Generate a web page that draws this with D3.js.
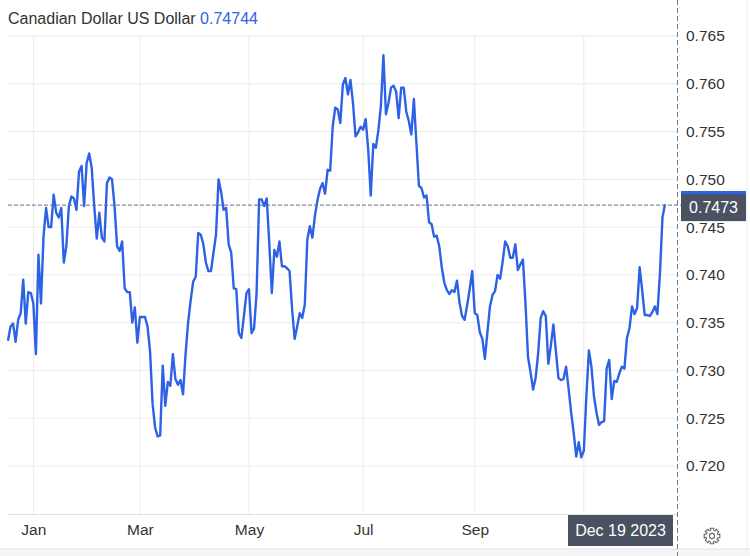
<!DOCTYPE html>
<html lang='en'>

<head>
   <meta charset='UTF-8'>
   <title>Canadian Dollar US Dollar</title>
   <script src='https://d3js.org/d3.v7.min.js'></script>
   <style>
      body {
         margin: 0;
         background: #fff;
      }

      svg text {
         font-family: 'Liberation Sans', Arial, Helvetica, sans-serif;
      }
   </style>
</head>

<body>
   <div id='svg-container'></div>
   <script>

      // daily close, Dec 19 2022 .. Dec 19 2023
      const rates = [
         0.7331, 0.7346, 0.7349, 0.7330, 0.7353, 0.7360, 0.7395, 0.7349, 0.7382, 0.7381,
         0.7370, 0.7317, 0.7421, 0.7370, 0.7440, 0.7470, 0.7450, 0.7450, 0.7484, 0.7465,
         0.7460, 0.7470, 0.7413, 0.7430, 0.7472, 0.7482, 0.7480, 0.7468, 0.7508, 0.7514,
         0.7472, 0.7517, 0.7527, 0.7512, 0.7472, 0.7438, 0.7465, 0.7439, 0.7435, 0.7496,
         0.7502, 0.7500, 0.7472, 0.7430, 0.7425, 0.7435, 0.7386, 0.7382, 0.7382, 0.7350,
         0.7366, 0.7329, 0.7356, 0.7356, 0.7356, 0.7346, 0.7320, 0.7265, 0.7240, 0.7231,
         0.7232, 0.7305, 0.7263, 0.7288, 0.7284, 0.7317, 0.7291, 0.7285, 0.7290, 0.7275,
         0.7317, 0.7350, 0.7373, 0.7393, 0.7398, 0.7444, 0.7442, 0.7432, 0.7413, 0.7404,
         0.7404, 0.7423, 0.7442, 0.7500, 0.7487, 0.7468, 0.7470, 0.7432, 0.7423, 0.7386,
         0.7385, 0.7339, 0.7334, 0.7357, 0.7381, 0.7385, 0.7339, 0.7344, 0.7381, 0.7479,
         0.7479, 0.7472, 0.7480, 0.7433, 0.7381, 0.7426, 0.7419, 0.7435, 0.7409, 0.7409,
         0.7407, 0.7404, 0.7364, 0.7333, 0.7346, 0.7360, 0.7355, 0.7369, 0.7437, 0.7451,
         0.7439, 0.7462, 0.7478, 0.7490, 0.7496, 0.7485, 0.7510, 0.7509, 0.7555, 0.7575,
         0.7573, 0.7559, 0.7599, 0.7606, 0.7589, 0.7604, 0.7580, 0.7545, 0.7549, 0.7555,
         0.7552, 0.7563, 0.7531, 0.7483, 0.7537, 0.7533, 0.7551, 0.7577, 0.7630, 0.7568,
         0.7580, 0.7596, 0.7598, 0.7592, 0.7564, 0.7596, 0.7596, 0.7571, 0.7561, 0.7547,
         0.7584, 0.7538, 0.7493, 0.7491, 0.7481, 0.7483, 0.7455, 0.7453, 0.7440, 0.7441,
         0.7430, 0.7408, 0.7392, 0.7384, 0.7380, 0.7384, 0.7382, 0.7394, 0.7371, 0.7357,
         0.7353, 0.7368, 0.7385, 0.7404, 0.7360, 0.7358, 0.7340, 0.7333, 0.7312, 0.7340,
         0.7367, 0.7379, 0.7383, 0.7400, 0.7396, 0.7414, 0.7435, 0.7430, 0.7418, 0.7418,
         0.7432, 0.7405, 0.7411, 0.7416, 0.7370, 0.7314, 0.7298, 0.7280, 0.7292, 0.7318,
         0.7355, 0.7362, 0.7357, 0.7307, 0.7326, 0.7348, 0.7320, 0.7292, 0.7290, 0.7291,
         0.7304, 0.7281, 0.7256, 0.7235, 0.7210, 0.7225, 0.7209, 0.7216, 0.7273, 0.7321,
         0.7304, 0.7273, 0.7256, 0.7243, 0.7246, 0.7247, 0.7302, 0.7311, 0.7270, 0.7289,
         0.7288, 0.7297, 0.7304, 0.7302, 0.7334, 0.7344, 0.7367, 0.7359, 0.7365, 0.7408,
         0.7384, 0.7358, 0.7358, 0.7357, 0.7361, 0.7367, 0.7359, 0.7401, 0.7460, 0.7474
      ];

      // month labels and the trading-day index they sit on
      const monthLabels = ['Jan', 'Mar', 'May', 'Jul', 'Sep', 'Nov'];
      const monthIndex = [10, 52, 95, 140, 184, 227];

      const yTicks = [0.720, 0.725, 0.730, 0.735, 0.740, 0.745, 0.750, 0.755, 0.760, 0.765];

      const title = 'Canadian Dollar US Dollar';
      const lastQuote = '0.74744';
      const lastPrice = 0.7473;
      const lastDate = 'Dec 19 2023';

      const W = 750, H = 556;
      const plot = { left: 8, right: 677, top: 36, bottom: 514 };
      const dateBox = { x: 568, y: 515, w: 105, h: 31 };

      const svg = d3.select('#svg-container').append('svg').attr('width', W).attr('height', H);

      const x = d3.scaleLinear()
         .domain([0, rates.length - 1])
         .range([plot.left, 665]);

      const y = d3.scaleLinear()
         .domain([0.720, 0.765])
         .range([466, plot.top]);

      // bottom frame strip
      svg.append('rect').attr('x', 0).attr('y', 549).attr('width', W).attr('height', H - 549).attr('fill', '#f5f5f5');
      svg.append('line').attr('x1', 0).attr('x2', W).attr('y1', 549).attr('y2', 549).attr('stroke', '#e4e4e4');
      svg.append('line').attr('x1', 747).attr('x2', 747).attr('y1', 0).attr('y2', 549).attr('stroke', '#ececec');

      // horizontal grid
      svg.append('g').selectAll('line').data(yTicks).join('line')
         .attr('x1', plot.left).attr('x2', plot.right)
         .attr('y1', d => y(d)).attr('y2', d => y(d))
         .attr('stroke', '#ebebeb').attr('stroke-width', 1);

      // vertical grid
      svg.append('g').selectAll('line').data(monthIndex).join('line')
         .attr('x1', d => x(d)).attr('x2', d => x(d))
         .attr('y1', plot.top).attr('y2', plot.bottom)
         .attr('stroke', '#ebebeb').attr('stroke-width', 1);

      // x axis (a label that sits under the date box is covered, so it is left out)
      const xAxis = d3.axisBottom(x)
         .tickValues(monthIndex)
         .tickFormat((d, i) => x(d) > dateBox.x - 12 ? '' : monthLabels[i])
         .tickSize(0)
         .tickPadding(10);
      const gx = svg.append('g').attr('transform', `translate(0, ${plot.bottom})`).call(xAxis);
      gx.select('.domain').attr('d', `M${plot.left},0.5H${plot.right}`).attr('stroke', '#e2e2e2');
      gx.selectAll('text').attr('font-size', 15.5).attr('fill', '#333').attr('font-family', null);

      // y axis on the right
      const yAxis = d3.axisRight(y)
         .tickValues(yTicks)
         .tickFormat(d3.format('.3f'))
         .tickSize(0)
         .tickPadding(9);
      const gy = svg.append('g').attr('transform', `translate(${plot.right}, 0)`).call(yAxis);
      gy.select('.domain').remove();
      gy.selectAll('text').attr('font-size', 15.5).attr('fill', '#333').attr('font-family', null);

      // price line
      const line = d3.line()
         .x((d, i) => x(i))
         .y(d => y(d));

      svg.append('path')
         .datum(rates)
         .attr('fill', 'none')
         .attr('stroke', '#2d62e6')
         .attr('stroke-width', 2.4)
         .attr('stroke-linejoin', 'round')
         .attr('d', line);

      // last price dashed line
      svg.append('line')
         .attr('x1', plot.left).attr('x2', plot.right + 4)
         .attr('y1', y(lastPrice)).attr('y2', y(lastPrice))
         .attr('stroke', '#66717f').attr('stroke-width', 1)
         .style('stroke-dasharray', '4, 2');

      // crosshair vertical dashed line
      svg.append('line')
         .attr('x1', plot.right + 0.5).attr('x2', plot.right + 0.5)
         .attr('y1', 0).attr('y2', H)
         .attr('stroke', '#777').attr('stroke-width', 1)
         .style('stroke-dasharray', '5, 3');

      // last price box
      const py = y(lastPrice);
      svg.append('rect').attr('x', 681).attr('y', py - 14).attr('width', 65).attr('height', 30).attr('fill', '#4a5261');
      svg.append('rect').attr('x', 681).attr('y', py - 14).attr('width', 65).attr('height', 3).attr('fill', '#2d62e6');
      svg.append('text')
         .attr('x', 713.5).attr('y', py + 2)
         .attr('dy', '0.35em')
         .attr('text-anchor', 'middle')
         .attr('font-size', 16)
         .attr('fill', '#fff')
         .text(lastPrice.toFixed(4));

      // date box
      svg.append('rect').attr('x', dateBox.x).attr('y', dateBox.y).attr('width', dateBox.w).attr('height', dateBox.h).attr('fill', '#4a5261');
      svg.append('text')
         .attr('x', dateBox.x + dateBox.w / 2).attr('y', dateBox.y + dateBox.h / 2)
         .attr('dy', '0.35em')
         .attr('text-anchor', 'middle')
         .attr('font-size', 16)
         .attr('fill', '#fff')
         .text(lastDate);

      // title
      const t = svg.append('text').attr('x', 8).attr('y', 24).attr('font-size', 16).attr('fill', '#333');
      t.append('tspan').text(title + ' ');
      t.append('tspan').attr('fill', '#2d62e6').text(lastQuote);

      // settings gear
      const gear = svg.append('g').attr('transform', 'translate(712, 536)');
      const teeth = d3.range(8).map(k => k * Math.PI / 4);
      const gearPts = [];
      teeth.forEach(a => {
         [-0.22, 0.22].forEach(o => gearPts.push([Math.cos(a + o) * 8, Math.sin(a + o) * 8]));
         [0.3, 0.56].forEach(o => gearPts.push([Math.cos(a + o) * 6, Math.sin(a + o) * 6]));
      });
      gear.append('path')
         .attr('d', d3.line().curve(d3.curveLinearClosed)(gearPts))
         .attr('fill', 'none').attr('stroke', '#666').attr('stroke-width', 1.1);
      gear.append('circle').attr('r', 2.6).attr('fill', 'none').attr('stroke', '#666').attr('stroke-width', 1.1);

   </script>
</body>

</html>
